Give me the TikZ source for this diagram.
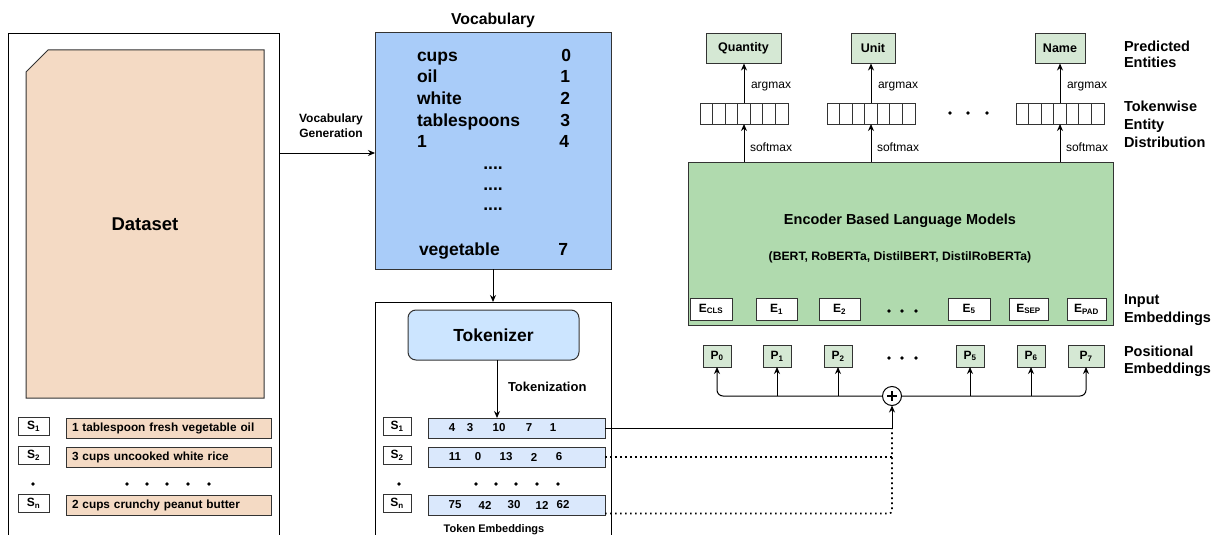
\documentclass[tikz,border=0pt]{standalone}
\usepackage{fontspec}
\setmainfont{Liberation Sans}
\usetikzlibrary{arrows.meta,calc}
\definecolor{peach}{HTML}{F4DAC4}
\definecolor{vocabblue}{HTML}{A9CCF9}
\definecolor{tokblue}{HTML}{CCE5FF}
\definecolor{rowblue}{HTML}{DAE8FC}
\definecolor{encgreen}{HTML}{B0DAAE}
\definecolor{lgreen}{HTML}{D5E8D4}
\definecolor{edge}{HTML}{333333}
\newcommand\fsb[2]{\fontsize{#1}{#2}\selectfont\bfseries}
\begin{document}
\begin{tikzpicture}[x=1pt,y=-1pt,
  every node/.style={inner sep=0pt,outer sep=0pt},
  box/.style={draw=edge,line width=1pt},
  arr/.style={draw=black,line width=1pt,-{Stealth[length=7pt,width=6pt]}},
  lnk/.style={draw=black,line width=1pt},
  dotline/.style={draw=black,line width=1.6pt,dash pattern=on 1.6pt off 3.4pt},
  sbox/.style={box,fill=white,minimum height=18pt,font=\fsb{12}{14}},
  sent/.style={box,fill=peach,minimum height=20pt,text width=193pt,inner xsep=6pt,align=left,font=\fsb{11.8}{14}},
  tokrow/.style={box,fill=rowblue,minimum width=177pt,minimum height=20pt},
  num/.style={font=\fsb{11.5}{14}},
  vocw/.style={anchor=base west,font=\fsb{17.5}{21}},
  vocn/.style={anchor=base east,font=\fsb{17.5}{21}},
  side/.style={anchor=base west,font=\fsb{14.5}{17}},
  small/.style={anchor=west,font=\fontsize{12}{14}\selectfont},
  ent/.style={box,fill=lgreen,minimum height=30pt,font=\fsb{12.5}{15}},
  vec/.style={draw=edge,line width=1pt,fill=white,minimum width=88pt,minimum height=21pt},
  ebox/.style={box,fill=white,minimum height=22pt,font=\fsb{12}{14}},
  pbox/.style={box,fill=lgreen,minimum height=22pt,font=\fsb{12}{14}},
]
\useasboundingbox (0,0) rectangle (1213,535);

% ---------------- left panel (dataset)
\draw[lnk] (8,536) -- (8,34) -- (279,34) -- (279,536);
\draw[box,fill=peach] (26,72) -- (48,50) -- (264,50) -- (264,398) -- (26,398) -- cycle;
\node[font=\fsb{18.5}{22}] (dataset) at (145,224) {Dataset};

\node[sbox,minimum width=31pt] (ls1) at (33.5,426) {S\textsubscript{1}};
\node[sbox,minimum width=31pt] (ls2) at (33.5,455) {S\textsubscript{2}};
\node[sbox,minimum width=31pt] (lsn) at (33.5,503) {S\textsubscript{n}};
\node[sent] (sen1) at (168.5,428) {1 tablespoon fresh vegetable oil};
\node[sent] (sen2) at (168.5,457) {3 cups uncooked white rice};
\node[sent] (senn) at (168.5,505) {2 cups crunchy peanut butter};
\fill (33,484) circle (1.9);
\foreach \x in {127,147,167,188,209} \fill (\x,484) circle (1.9);

% ---------------- vocabulary
\coordinate (vg) at (279,153);
\node[font=\fsb{12}{15},align=center] (vglab) at (331,125.5) {Vocabulary\\Generation};
\node[box,fill=vocabblue,minimum width=236pt,minimum height=236pt] (vocab) at (493,151) {};
\node[font=\fsb{15.8}{19}] (voctitle) at (493,20) {Vocabulary};
\draw[arr] (vg) -- (vg -| vocab.west);

\node[vocw] (w1) at (417,62) {cups};
\node[vocw] (w2) at (417,83) {oil};
\node[vocw] (w3) at (417,104) {white};
\node[vocw] (w4) at (417,126) {tablespoons};
\node[vocw] (w5) at (417,147) {1};
\node[vocw] (w6) at (419,255) {vegetable};
\node[vocn] (n1) at (571,62) {0};
\node[vocn] (n2) at (570,83) {1};
\node[vocn] (n3) at (570,104) {2};
\node[vocn] (n4) at (570,126) {3};
\node[vocn] (n5) at (569,147) {4};
\node[vocn] (n6) at (568,255) {7};
\node[anchor=base,font=\fsb{17.5}{21}] (vd1) at (493,169) {....};
\node[anchor=base,font=\fsb{17.5}{21}] (vd2) at (493,190) {....};
\node[anchor=base,font=\fsb{17.5}{21}] (vd3) at (493,210) {....};

% ---------------- tokenizer panel
\draw[lnk] (375,536) -- (375,302) -- (611,302) -- (611,536);
\coordinate (tptop) at (493,302);
\draw[arr] (vocab.south) -- (tptop);
\node[box,fill=tokblue,rounded corners=8pt,minimum width=171pt,minimum height=50pt,font=\fsb{17.5}{21}] (tokenizer) at (493.5,335) {Tokenizer};

\node[sbox,minimum width=28pt] (ts1) at (397,426) {S\textsubscript{1}};
\node[sbox,minimum width=28pt] (ts2) at (397,455) {S\textsubscript{2}};
\node[sbox,minimum width=28pt] (tsn) at (397,503) {S\textsubscript{n}};
\node[tokrow] (tr1) at (516.5,428) {};
\node[tokrow] (tr2) at (516.5,457) {};
\node[tokrow] (trn) at (516.5,505) {};
\foreach \x/\t in {452/4,470/3,499/10,529/7,553/1} \node[num] (ra\x) at (\x,428) {\t};
\foreach \x/\t in {455/11,478/0,506/13,534/2,559/6} \node[num] (rb\x) at (\x,457) {\t};
\foreach \x/\t in {455/75,485/42,514/30,542/12,563/62} \node[num] (rc\x) at (\x,505) {\t};
\fill (399,484) circle (1.9);
\foreach \x in {476,496,516,537,558} \fill (\x,484) circle (1.9);

\coordinate (tka) at ($(tokenizer.south)+(3.5,0)$);
\draw[arr] (tka) -- (tka |- tr1.north);
\node[anchor=west,font=\fsb{13}{15}] (tkl) at (508,387) {Tokenization};
\node[font=\fsb{11}{13}] (tokemb) at (494,530) {Token Embeddings};

% ---------------- encoder
\node[box,fill=encgreen,minimum width=425pt,minimum height=163pt] (enc) at (900.5,243.5) {};
\node[font=\fsb{14.5}{17}] (enct1) at (900,221) {Encoder Based Language Models};
\node[font=\fsb{12.2}{15}] (enct2) at (900,257) {(BERT, RoBERTa, DistilBERT, DistilRoBERTa)};

\node[ebox,minimum width=42pt] (ecls) at (711,309) {E\textsubscript{CLS}};
\node[ebox,minimum width=41pt] (e1) at (776.5,309) {E\textsubscript{1}};
\node[ebox,minimum width=41pt] (e2) at (839.5,309) {E\textsubscript{2}};
\node[ebox,minimum width=42pt] (e5) at (969,309) {E\textsubscript{5}};
\node[ebox,minimum width=39pt] (esep) at (1028.5,309) {E\textsubscript{SEP}};
\node[ebox,minimum width=39pt] (epad) at (1086.5,309) {E\textsubscript{PAD}};
\foreach \x in {889,902,916} \fill (\x,311) circle (1.9);

\node[pbox,minimum width=28pt] (p0) at (717,356) {P\textsubscript{0}};
\node[pbox,minimum width=28pt] (p1) at (777,356) {P\textsubscript{1}};
\node[pbox,minimum width=28pt] (p2) at (838,356) {P\textsubscript{2}};
\node[pbox,minimum width=28pt] (p5) at (970,356) {P\textsubscript{5}};
\node[pbox,minimum width=28pt] (p6) at (1031,356) {P\textsubscript{6}};
\node[pbox,minimum width=36pt] (p7) at (1086,356) {P\textsubscript{7}};
\foreach \x in {889,902,916} \fill (\x,358) circle (1.9);

\node[circle,draw=black,line width=1pt,fill=white,minimum size=19pt] (plus) at (892,396) {};
\draw[line width=2pt] ($(plus.center)+(-5,0)$) -- ($(plus.center)+(5,0)$)
  ($(plus.center)+(0,-5)$) -- ($(plus.center)+(0,5)$);
\draw[arr,rounded corners=6pt] (plus.west) -| (p0.south);
\draw[arr,rounded corners=6pt] (plus.east) -| (p7.south);
\foreach \p in {p1,p2,p5,p6} \draw[arr] (\p.south |- plus.center) -- (\p.south);

% token rows -> plus
\coordinate (jn) at (892,428);
\draw[arr] (tr1.east) -| (plus.south);
\draw[dotline] (tr2.east) -- (tr2.east -| jn);
\draw[dotline,rounded corners=3pt] ($(trn.south east)+(0,-1.5)$) -| (jn);

% ---------------- outputs
\node[ent,minimum width=75pt] (quant) at (743.5,48.5) {Quantity};
\node[ent,minimum width=44pt] (unit) at (873,48.5) {Unit};
\node[ent,minimum width=50pt] (name) at (1060,48.5) {Name};
\node[vec] (vq) at (744,113.5) {};
\node[vec] (vu) at (871,113.5) {};
\node[vec] (vn) at (1060,113.5) {};
\foreach \v in {vq,vu,vn}{
  \foreach \i in {1,...,6}{
    \draw[draw=edge,line width=1pt] ($(\v.north west)+(\i*88/7,0)$) -- ($(\v.south west)+(\i*88/7,0)$);
  }
}
\foreach \x in {950,968,987} \fill (\x,113) circle (1.9);

\draw[arr] (vq.north) -- (vq.north |- quant.south);
\draw[arr] (vu.north) -- (vu.north |- unit.south);
\draw[arr] (vn.north) -- (vn.north |- name.south);
\draw[arr] (vq.south |- enc.north) -- (vq.south);
\draw[arr] (vu.south |- enc.north) -- (vu.south);
\draw[arr] (vn.south |- enc.north) -- (vn.south);
\node[small] (am1) at (751,87) {argmax};
\node[small] (am2) at (878,87) {argmax};
\node[small] (am3) at (1067,87) {argmax};
\node[small] (sm1) at (750,147) {softmax};
\node[small] (sm2) at (877,147) {softmax};
\node[small] (sm3) at (1066,147) {softmax};

% ---------------- side labels
\node[side] (pe1) at (1124,51.5) {Predicted};
\node[side] (pe2) at (1124,68) {Entities};
\node[side] (td1) at (1124,111.5) {Tokenwise};
\node[side] (td2) at (1124,129) {Entity};
\node[side] (td3) at (1124,147) {Distribution};
\node[side] (ie1) at (1124,304) {Input};
\node[side] (ie2) at (1124,322) {Embeddings};
\node[side] (po1) at (1124,356) {Positional};
\node[side] (po2) at (1124,373) {Embeddings};
\end{tikzpicture}
\end{document}
